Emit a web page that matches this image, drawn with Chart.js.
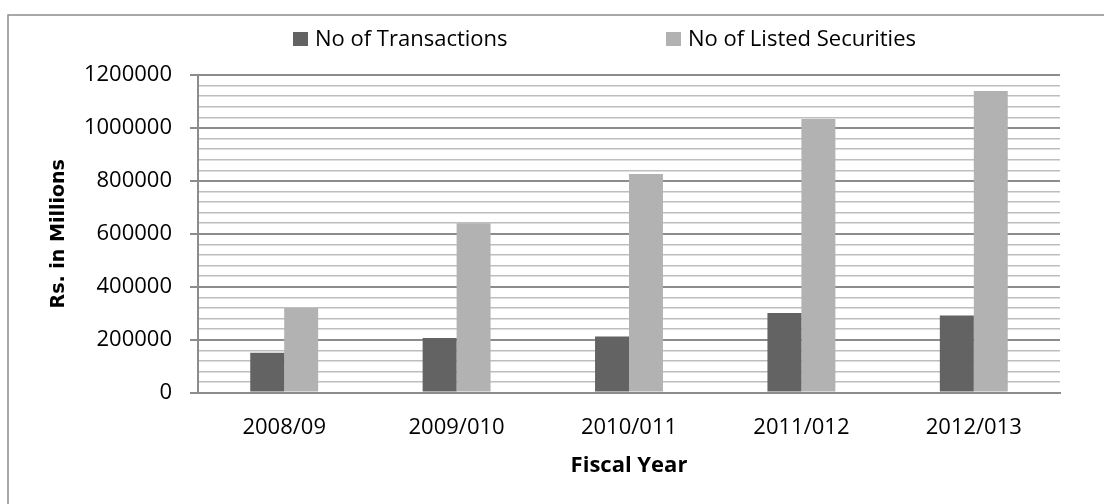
<!DOCTYPE html>
<html>
<head>
<meta charset="utf-8">
<script src="https://cdn.jsdelivr.net/npm/chart.js@4.4.0/dist/chart.umd.min.js"></script>
<style>
  html, body { margin: 0; padding: 0; background: #fff; }
  #wrap { width: 1104px; height: 504px; position: relative; }
</style>
</head>
<body>
<div id="wrap"><canvas id="chart"></canvas></div>
<script>
const years = ['2008/09', '2009/010', '2010/011', '2011/012', '2012/013'];
const transactions = [151000, 206000, 212000, 301000, 291000];
const listedSecurities = [320000, 640000, 826000, 1034000, 1140000];
const seriesNames = ['No of Transactions', 'No of Listed Securities'];
const seriesColors = ['#636363', '#b2b2b2'];

const GRID_MAJOR = '#8c8c8c';
const GRID_MINOR = '#bdbdbd';
const FONT = "'Open Sans', sans-serif";
const isMajor = v => Math.round(v) % 200000 === 0;

// outer frame and the legend row, drawn the way Excel lays them out
const frameAndLegend = {
  id: 'frameAndLegend',
  beforeDraw(chart) {
    const ctx = chart.ctx;
    ctx.save();
    ctx.fillStyle = '#fff';
    ctx.fillRect(0, 0, chart.width, chart.height);
    ctx.strokeStyle = GRID_MAJOR;
    ctx.lineWidth = 1.5;
    ctx.beginPath();
    ctx.moveTo(8, chart.height);
    ctx.lineTo(8, 15);
    ctx.lineTo(chart.width, 15);
    ctx.stroke();
    ctx.restore();
  },
  afterDraw(chart) {
    const ctx = chart.ctx;
    const slots = [293, 666];
    ctx.save();
    ctx.font = '22px ' + FONT;
    ctx.textBaseline = 'middle';
    ctx.fillStyle = '#000';
    chart.data.datasets.forEach((ds, i) => {
      const x = slots[i];
      ctx.fillStyle = ds.backgroundColor;
      ctx.fillRect(x, 32, 15, 14);
      ctx.fillStyle = '#000';
      ctx.fillText(ds.label, x + 22, 40);
    });
    ctx.restore();
  }
};

new Chart(document.getElementById('chart'), {
  type: 'bar',
  data: {
    labels: years,
    datasets: [
      { label: seriesNames[0], data: transactions, backgroundColor: seriesColors[0] },
      { label: seriesNames[1], data: listedSecurities, backgroundColor: seriesColors[1] }
    ]
  },
  options: {
    responsive: true,
    maintainAspectRatio: false,
    animation: false,
    layout: { padding: { top: 75, left: 47.6, right: 44, bottom: 24.8 } },
    datasets: { bar: { categoryPercentage: 0.394, barPercentage: 1 } },
    plugins: { legend: { display: false }, tooltip: { enabled: false } },
    scales: {
      x: {
        grid: { display: false, drawTicks: false },
        border: { display: true, color: GRID_MAJOR, width: 2 },
        ticks: { color: '#000', padding: 22, font: { family: FONT, size: 22 } },
        title: {
          display: true,
          text: 'Fiscal Year',
          color: '#000',
          font: { family: FONT, size: 22, weight: 'bold' },
          padding: { top: -10.2, bottom: 0 }
        }
      },
      y: {
        min: 0,
        max: 1200000,
        afterFit(scale) { scale.width = 150.4; },
        grid: {
          color: c => isMajor(c.tick.value) ? GRID_MAJOR : GRID_MINOR,
          lineWidth: c => isMajor(c.tick.value) ? 2 : 1.5,
          tickColor: c => isMajor(c.tick.value) ? GRID_MAJOR : 'rgba(0,0,0,0)',
          tickLength: 8
        },
        border: { color: GRID_MAJOR, width: 2 },
        ticks: {
          stepSize: 40000,
          maxTicksLimit: 40,
          autoSkip: false,
          padding: 18,
          color: '#000',
          font: { family: FONT, size: 22 },
          callback: v => isMajor(v) ? String(Math.round(v)) : ''
        },
        title: {
          display: true,
          text: 'Rs. in Millions',
          color: '#000',
          font: { family: "'DejaVu Sans', sans-serif", size: 19, weight: 'bold' },
          padding: { top: 0, bottom: 0 }
        }
      }
    }
  },
  plugins: [frameAndLegend]
});
</script>
</body>
</html>
